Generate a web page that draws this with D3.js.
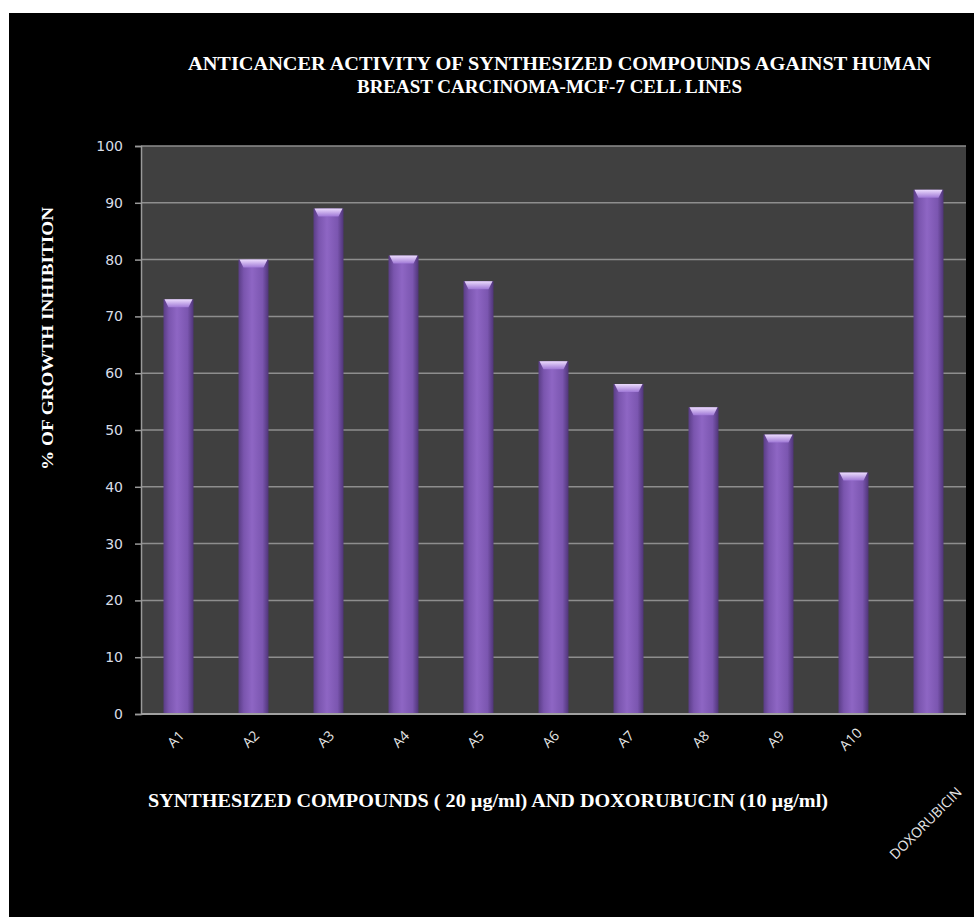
<!DOCTYPE html>
<html>
<head>
<meta charset="utf-8">
<script src="https://cdn.jsdelivr.net/npm/d3@7"></script>
<style>
  html, body { margin: 0; padding: 0; background: #ffffff; }
  svg { display: block; }
</style>
</head>
<body>
<svg id="chart" width="974" height="917"></svg>
<script>
// ---- data ----
const categories = ["A1", "A2", "A3", "A4", "A5", "A6", "A7", "A8", "A9", "A10", "DOXORUBICIN"];
const values = [73, 80, 89, 80.7, 76.2, 62.1, 58.1, 54, 49.2, 42.5, 92.3];
const yTicks = [0, 10, 20, 30, 40, 50, 60, 70, 80, 90, 100];
const titleLines = ["ANTICANCER  ACTIVITY OF  SYNTHESIZED COMPOUNDS AGAINST HUMAN", "BREAST CARCINOMA-MCF-7 CELL LINES"];
const xTitle = "SYNTHESIZED COMPOUNDS ( 20 \u00b5g/ml) AND DOXORUBUCIN (10 \u00b5g/ml)";
const yTitle = "% OF GROWTH INHIBITION";

// ---- layout ----
const svg = d3.select("#chart");
const plot = { left: 141, right: 966, top: 146, bottom: 714 };

svg.append("rect").attr("x", 9).attr("y", 13).attr("width", 965).attr("height", 904).attr("fill", "#000000");

const x = d3.scaleBand().domain(categories).range([plot.left, plot.right]).paddingInner(0.6).paddingOuter(0.3);
const y = d3.scaleLinear().domain([0, 100]).range([plot.bottom, plot.top]);

const defs = svg.append("defs");
const g1 = defs.append("linearGradient").attr("id", "barGrad").attr("x1", "0").attr("x2", "1").attr("y1", "0").attr("y2", "0");
g1.append("stop").attr("offset", "0%").attr("stop-color", "#5a3d86");
g1.append("stop").attr("offset", "18%").attr("stop-color", "#7a55ae");
g1.append("stop").attr("offset", "45%").attr("stop-color", "#8e66c4");
g1.append("stop").attr("offset", "80%").attr("stop-color", "#7b56b0");
g1.append("stop").attr("offset", "100%").attr("stop-color", "#4f3578");
const g2 = defs.append("linearGradient").attr("id", "capGrad").attr("x1", "0").attr("x2", "0").attr("y1", "0").attr("y2", "1");
g2.append("stop").attr("offset", "0%").attr("stop-color", "#ecdcfd");
g2.append("stop").attr("offset", "100%").attr("stop-color", "#9f78d6");

// plot background
svg.append("rect").attr("x", plot.left).attr("y", plot.top)
  .attr("width", plot.right - plot.left).attr("height", plot.bottom - plot.top)
  .attr("fill", "#404040");

// gridlines
svg.append("g").selectAll("line").data(yTicks.filter(d => d > 0)).join("line")
  .attr("x1", plot.left).attr("x2", plot.right)
  .attr("y1", d => y(d)).attr("y2", d => y(d))
  .attr("stroke", "#8e8e8e").attr("stroke-width", 1.5);

// y axis
const yAxis = d3.axisLeft(y).tickValues(yTicks).tickSize(6).tickPadding(12);
const ya = svg.append("g").attr("transform", `translate(${plot.left},0)`).call(yAxis);
ya.select(".domain").attr("stroke", "#9a9a9a").attr("stroke-width", 1.5);
ya.selectAll(".tick line").attr("stroke", "#9a9a9a").attr("stroke-width", 1.5);
ya.selectAll(".tick text").attr("fill", "#d8dde6").attr("font-family", "DejaVu Sans, Verdana, sans-serif").attr("font-size", 14);

// bars
const bars = svg.append("g");
bars.selectAll("rect.bar").data(values).join("rect").attr("class", "bar")
  .attr("x", (d, i) => x(categories[i]))
  .attr("y", d => y(d))
  .attr("width", x.bandwidth())
  .attr("height", d => y(0) - y(d))
  .attr("fill", "url(#barGrad)");
bars.selectAll("path.cap").data(values).join("path").attr("class", "cap")
  .attr("d", (d, i) => {
    const x0 = x(categories[i]), w = x.bandwidth(), t = y(d);
    return `M${x0 + 1},${t} L${x0 + w - 1},${t} L${x0 + w - 5},${t + 8} L${x0 + 5},${t + 8} Z`;
  })
  .attr("fill", "url(#capGrad)");

// x axis line
svg.append("line").attr("x1", plot.left).attr("x2", plot.right)
  .attr("y1", plot.bottom).attr("y2", plot.bottom)
  .attr("stroke", "#a0a0a0").attr("stroke-width", 2);

// x labels (rotated)
const xl = svg.append("g").selectAll("text").data(categories).join("text")
  .text(d => d)
  .attr("fill", "#e6e6e6")
  .attr("font-family", "Open Sans, Liberation Sans, sans-serif")
  .attr("font-size", 14)
  .attr("text-anchor", "middle")
  .attr("dominant-baseline", "middle");
xl.each(function (d) {
  const w = this.getComputedTextLength();
  const cx = x(d) + x.bandwidth() / 2 - 2;
  const cy = w > 40 ? 824 : 740;
  d3.select(this).attr("transform", `translate(${cx},${cy}) rotate(-45)`);
});

// titles
const serif = "Liberation Serif, Times New Roman, serif";
svg.append("text").text(titleLines[0]).attr("x", 188).attr("y", 70)
  .attr("fill", "#ffffff").attr("font-family", serif).attr("font-weight", "bold").attr("font-size", 19)
  .attr("textLength", 743).attr("lengthAdjust", "spacingAndGlyphs");
svg.append("text").text(titleLines[1]).attr("x", 357).attr("y", 93)
  .attr("fill", "#ffffff").attr("font-family", serif).attr("font-weight", "bold").attr("font-size", 19)
  .attr("textLength", 385).attr("lengthAdjust", "spacingAndGlyphs");

svg.append("text").text(xTitle).attr("x", 148).attr("y", 807)
  .attr("fill", "#ffffff").attr("font-family", serif).attr("font-weight", "bold").attr("font-size", 19)
  .attr("textLength", 680).attr("lengthAdjust", "spacingAndGlyphs");

svg.append("text").text(yTitle)
  .attr("transform", "translate(53,470) rotate(-90)")
  .attr("fill", "#ffffff").attr("font-family", serif).attr("font-weight", "bold").attr("font-size", 17)
  .attr("textLength", 263).attr("lengthAdjust", "spacingAndGlyphs");
</script>
</body>
</html>
